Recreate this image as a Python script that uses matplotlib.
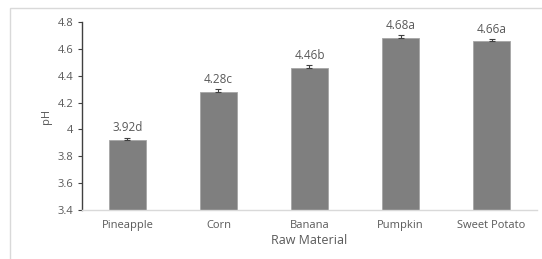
import matplotlib
matplotlib.use("Agg")
import matplotlib.pyplot as plt
from matplotlib.patches import Rectangle
from matplotlib.ticker import FuncFormatter

materials = ["Pineapple", "Corn", "Banana", "Pumpkin", "Sweet Potato"]
ph = [3.92, 4.28, 4.46, 4.68, 4.66]
err = [0.02, 0.02, 0.02, 0.02, 0.01]
letters = ["d", "c", "b", "a", "a"]
yticks = [3.4, 3.6, 3.8, 4.0, 4.2, 4.4, 4.6, 4.8]

plt.rcParams['font.family'] = ['Open Sans', 'DejaVu Sans']
txt = '#595959'

fig = plt.figure(figsize=(5.42, 2.59), dpi=100)
ax = fig.add_axes([0.151, 0.189, 0.840, 0.726])

# outer chart frame (cut off at right/bottom like the screenshot)
fig.patches.append(Rectangle((10/542, -0.1), 1.2, 1 - 8/259 + 0.1,
                             transform=fig.transFigure, fill=False,
                             edgecolor='#d9d9d9', linewidth=1.0))

x = range(len(materials))
# only the upper half of the error bar shows above the bar
ax.bar(x, ph, width=0.4, color='#7f7f7f', edgecolor='#a6a6a6', linewidth=0.6,
       yerr=[[0]*len(err), err], capsize=2.5,
       error_kw=dict(ecolor='#404040', elinewidth=0.8, capthick=0.8))

for i, (v, e, l) in enumerate(zip(ph, err, letters)):
    ax.annotate(f"{v:.2f}{l}", (i, v + e), xytext=(0, 2.5), textcoords='offset points',
                ha='center', va='bottom', fontsize=8.5, color=txt)

ax.set_xlim(-0.5, 4.5)
ax.set_ylim(3.4, 4.8)
ax.set_yticks(yticks)
ax.yaxis.set_major_formatter(FuncFormatter(lambda v, p: f"{v:g}"))
ax.set_xticks(list(x))
ax.set_xticklabels(materials)

for s in ['top', 'right']:
    ax.spines[s].set_visible(False)
ax.spines['left'].set_color('#404040')
ax.spines['left'].set_linewidth(1.0)
ax.spines['bottom'].set_color('#d9d9d9')
ax.spines['bottom'].set_linewidth(1.0)

ax.tick_params(axis='x', length=0, pad=7, labelsize=8, labelcolor=txt)
ax.tick_params(axis='y', length=3, width=0.8, color='#404040', pad=3,
               labelsize=8, labelcolor=txt)

ax.set_ylabel("pH", fontsize=8, color=txt, labelpad=4)
ax.set_xlabel("Raw Material", fontsize=9, color=txt, labelpad=2)

fig.savefig("out.png", dpi=100)
